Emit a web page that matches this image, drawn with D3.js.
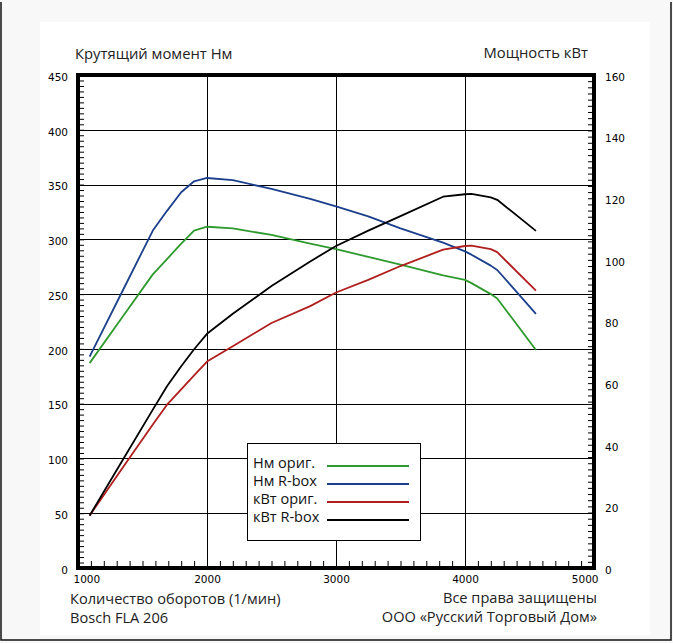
<!DOCTYPE html>
<html><head><meta charset="utf-8">
<script src="https://cdn.jsdelivr.net/npm/d3@7"></script>
<style>html,body{margin:0;padding:0;background:#fff;} svg{display:block;}</style>
</head><body>
<script>
// ---- data ----
const rpm = [1090, 1350, 1580, 1690, 1800, 1900, 2000, 2200, 2500, 2800, 3000, 3250, 3500, 3830, 4000, 4050, 4200, 4250, 4550];
const nmOrig = [187, 230, 268, 282, 296, 308, 311.5, 310, 304, 296, 291, 284, 277, 267, 263, 260, 250, 246, 199];
const nmRbox = [193, 254, 308, 326, 343, 353, 356, 354, 346, 337, 330, 321, 310, 297, 289, 286, 276, 272, 232];
const kwOrig = [17, 32.8, 46.6, 53, 58, 62.5, 67, 72, 79.5, 85, 89.4, 93.5, 98, 103.3, 104.5, 104.6, 103.5, 102.5, 90];
const kwRbox = [17, 35.3, 51.4, 59, 65.5, 71, 76, 82.5, 91.5, 99.5, 104.5, 109.5, 114.2, 120.5, 121.3, 121.4, 120.3, 119.5, 109.4];
const xTicks = [1000, 2000, 3000, 4000, 5000];
const leftTicks = [0, 50, 100, 150, 200, 250, 300, 350, 400, 450];
const rightTicks = [0, 20, 40, 60, 80, 100, 120, 140, 160];
const legendLabels = ["Нм ориг.", "Нм R-box", "кВт ориг.", "кВт R-box"];
const titleLeft = "Крутящий момент Нм";
const titleRight = "Мощность кВт";
const footLeft = ["Количество оборотов (1/мин)", "Bosch FLA 206"];
const footRight = ["Все права защищены", "ООО «Русский Торговый Дом»"];

const W = 673, H = 643;
const svg = d3.select("body").append("svg").attr("width", W).attr("height", H);
const font = "'Open Sans', 'Noto Sans', sans-serif";
const tickFont = "'DejaVu Sans', Verdana, sans-serif";

svg.append("rect").attr("width", W).attr("height", H).attr("fill", "#f8f8f8");
svg.append("rect").attr("x", 40).attr("y", 22).attr("width", 610).attr("height", 613).attr("fill", "#fff");
// outer frame (left, right, bottom)
svg.append("path").attr("d", "M1,2V640H671V2").attr("fill", "none").attr("stroke", "#111").attr("stroke-width", 1.5);

const x = d3.scaleLinear().domain([1000, 5000]).range([78, 594]);
const yL = d3.scaleLinear().domain([0, 450]).range([568, 75]);
const yR = d3.scaleLinear().domain([0, 160]).range([568, 75]);

const colors = ["#2e9a2e", "#1c3f8c", "#b01e1e", "#000"];

// grid
const grid = svg.append("g").attr("stroke", "#000").attr("stroke-width", 1).attr("shape-rendering", "crispEdges");
leftTicks.filter(d => d > 0 && d < 450).forEach(d => {
  grid.append("line").attr("x1", x(1000)).attr("x2", x(5000)).attr("y1", Math.round(yL(d)) + 0.5).attr("y2", Math.round(yL(d)) + 0.5);
});
xTicks.filter(d => d > 1000 && d < 5000).forEach(d => {
  grid.append("line").attr("y1", yL(0)).attr("y2", yL(450)).attr("x1", Math.round(x(d)) + 0.5).attr("x2", Math.round(x(d)) + 0.5);
});

// legend box
const lg = svg.append("g");
lg.append("rect").attr("x", 247.5).attr("y", 443.5).attr("width", 173).attr("height", 97)
  .attr("fill", "#fff").attr("stroke", "#000").attr("stroke-width", 1);

// minor ticks
const minorL = d3.range(0, 451, 5), minorR = d3.range(0, 161, 2), minorX = d3.range(1000, 5001, 100);
svg.append("g").attr("transform", `translate(${x(1000)},0)`)
  .call(d3.axisLeft(yL).tickValues(minorL).tickSize(-6).tickFormat(""))
  .call(g => { g.select(".domain").remove(); g.selectAll("line").attr("stroke", "#000"); });
svg.append("g").attr("transform", `translate(${x(5000)},0)`)
  .call(d3.axisRight(yR).tickValues(minorR).tickSize(-6).tickFormat(""))
  .call(g => { g.select(".domain").remove(); g.selectAll("line").attr("stroke", "#000"); });
svg.append("g").attr("transform", `translate(0,${yL(0)})`)
  .call(d3.axisBottom(x).tickValues(minorX).tickSize(-7).tickFormat(""))
  .call(g => { g.select(".domain").remove(); g.selectAll("line").attr("stroke", "#000"); });

// thick frame
svg.append("rect").attr("x", x(1000)).attr("y", yL(450)).attr("width", x(5000) - x(1000)).attr("height", yL(0) - yL(450))
  .attr("fill", "none").attr("stroke", "#000").attr("stroke-width", 4);

// tick labels
svg.append("g").attr("transform", `translate(${x(1000) - 7},0)`)
  .call(d3.axisLeft(yL).tickValues(leftTicks).tickSize(0).tickFormat(d3.format("d")))
  .call(g => { g.select(".domain").remove(); g.selectAll("text").attr("font-family", tickFont).attr("font-size", 10.5).attr("fill", "#000").attr("dy", "0.5em"); });
svg.append("g").attr("transform", `translate(${x(5000) + 8},0)`)
  .call(d3.axisRight(yR).tickValues(rightTicks).tickSize(0).tickFormat(d3.format("d")))
  .call(g => { g.select(".domain").remove(); g.selectAll("text").attr("font-family", tickFont).attr("font-size", 10.5).attr("fill", "#000").attr("dy", "0.5em"); });
svg.append("g").attr("transform", `translate(0,${yL(0) + 5})`)
  .call(d3.axisBottom(x).tickValues(xTicks).tickSize(0).tickFormat(d3.format("d")))
  .call(g => {
    g.select(".domain").remove();
    g.selectAll("text").attr("font-family", tickFont).attr("font-size", 10.5).attr("fill", "#000")
      .attr("text-anchor", d => d === 1000 ? "start" : d === 5000 ? "end" : "middle")
      .attr("dx", d => d === 1000 ? -5 : d === 5000 ? 4 : 0);
  });

// data lines
const series = [
  {vals: nmOrig, y: yL}, {vals: nmRbox, y: yL}, {vals: kwOrig, y: yR}, {vals: kwRbox, y: yR}
];
series.forEach((s, i) => {
  const line = d3.line().x((d, j) => x(rpm[j])).y(d => s.y(d));
  svg.append("path").datum(s.vals).attr("d", line).attr("fill", "none")
    .attr("stroke", colors[i]).attr("stroke-width", 1.8).attr("stroke-linejoin", "round");
});

// legend entries
const ly = [466, 484, 502, 520];
legendLabels.forEach((t, i) => {
  lg.append("text").attr("x", 253).attr("y", ly[i] + 1.5).attr("font-family", font).attr("font-size", 14.5).attr("fill", "#111").text(t);
  lg.append("line").attr("x1", 327).attr("x2", 409).attr("y1", ly[i]).attr("y2", ly[i]).attr("stroke", colors[i]).attr("stroke-width", 2);
});

// titles
svg.append("text").attr("x", 75).attr("y", 59).attr("font-family", font).attr("font-size", 14.8).attr("fill", "#222").text(titleLeft);
svg.append("text").attr("x", 588).attr("y", 58).attr("text-anchor", "end").attr("font-family", font).attr("font-size", 14.8).attr("fill", "#222").text(titleRight);
footLeft.forEach((t, i) => svg.append("text").attr("x", 70).attr("y", 604 + i * 19).attr("font-family", font).attr("font-size", 14.6).attr("fill", "#222").text(t));
footRight.forEach((t, i) => svg.append("text").attr("x", 597).attr("y", 603 + i * 19).attr("text-anchor", "end").attr("font-family", font).attr("font-size", 14.6).attr("fill", "#222").text(t));
</script>
</body></html>
